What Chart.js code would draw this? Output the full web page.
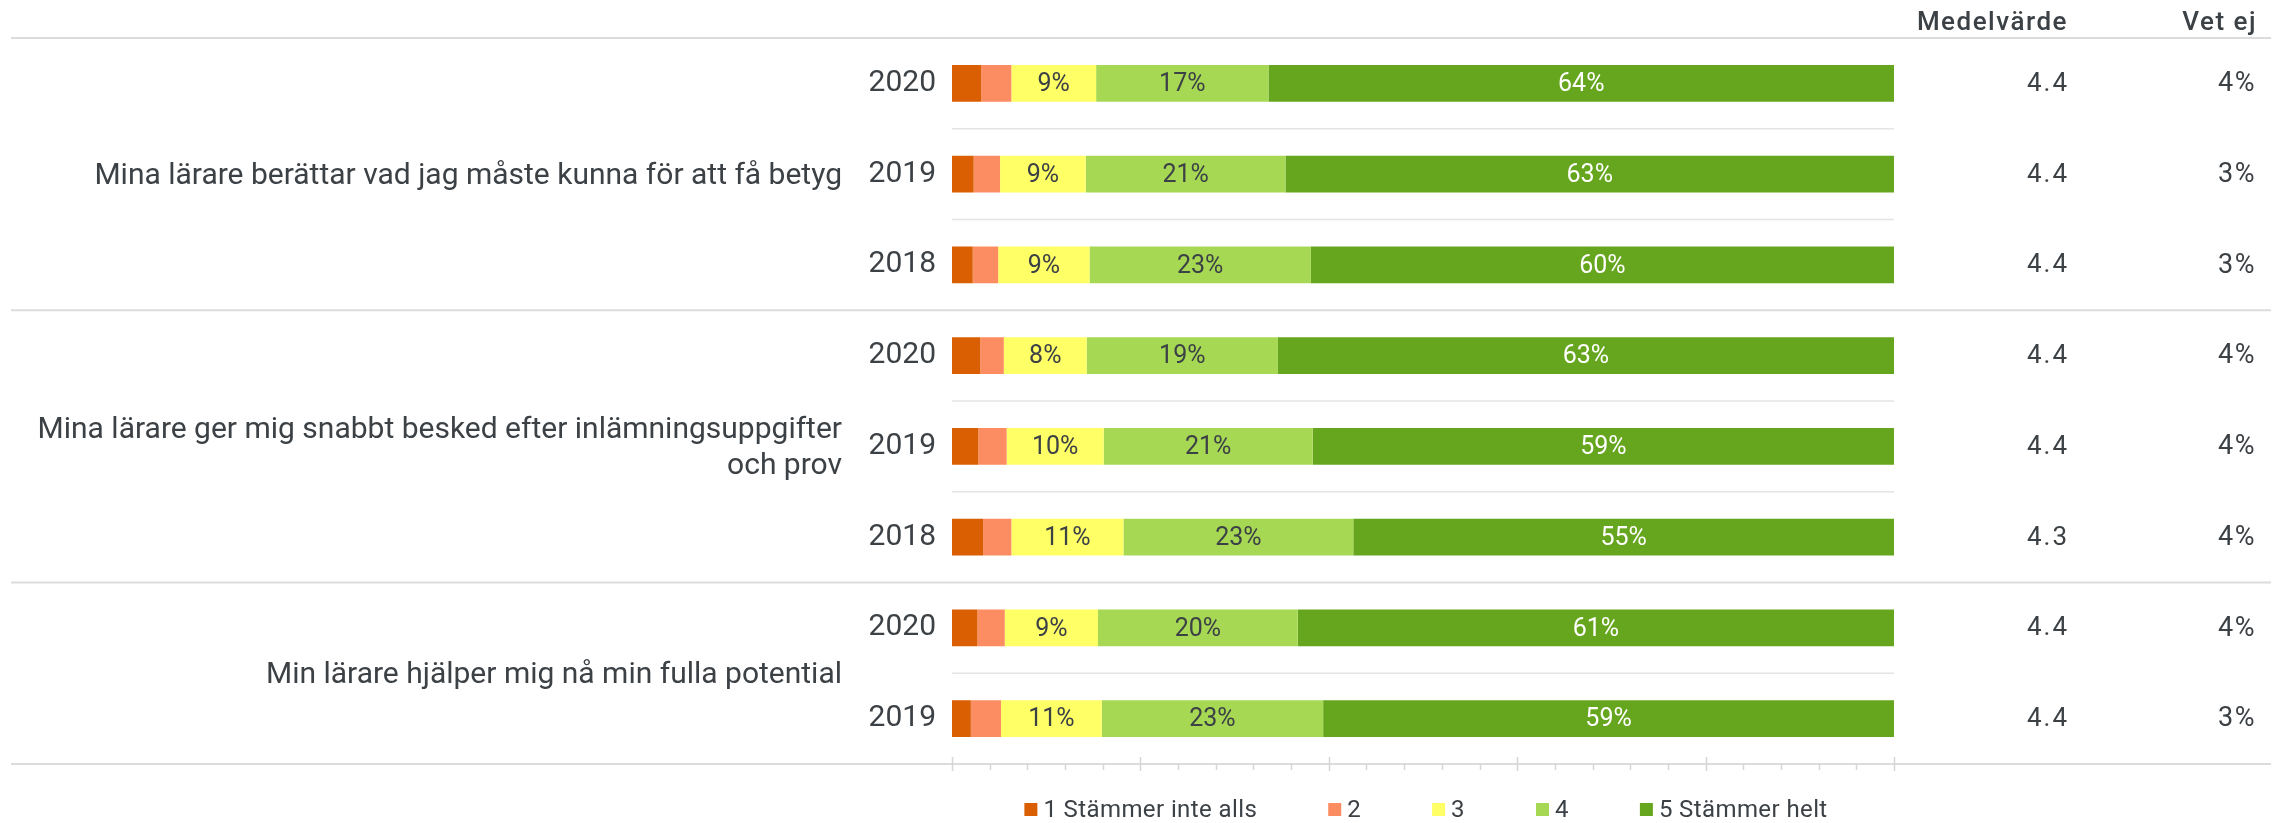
<!DOCTYPE html>
<html>
<head>
<meta charset="utf-8">
<script src="https://cdn.jsdelivr.net/npm/chart.js@4/dist/chart.umd.min.js"></script>
<style>
  html, body { margin: 0; padding: 0; background: #ffffff; }
  #wrap { width: 2284px; height: 823px; }
  canvas { display: block; }
</style>
</head>
<body>
<div id="wrap"><canvas id="c" width="2284" height="823"></canvas></div>
<script>
// ---------- data ----------
const years = ['2020', '2019', '2018', '2020', '2019', '2018', '2020', '2019'];
const groupLabels = [
  ['Mina lärare berättar vad jag måste kunna för att få betyg'],
  ['Mina lärare ger mig snabbt besked efter inlämningsuppgifter', 'och prov'],
  ['Min lärare hjälper mig nå min fulla potential']
];
const groupRows = [[0, 1, 2], [3, 4, 5], [6, 7]];
const seriesNames = ['1 Stämmer inte alls', '2', '3', '4', '5 Stämmer helt'];
// bar shares (% of those who answered)
const s1 = [3.1, 2.3, 2.2, 3.0, 2.8, 3.3, 2.7, 2.0];
const s2 = [3.2, 2.8, 2.7, 2.5, 3.0, 3.0, 2.9, 3.2];
const s3 = [9.0, 9.1, 9.7, 8.8, 10.3, 11.9, 9.9, 10.7];
const s4 = [18.3, 21.2, 23.5, 20.3, 22.2, 24.4, 21.2, 23.5];
const s5 = [66.4, 64.6, 61.9, 65.4, 61.7, 57.4, 63.3, 60.6];
// printed percentages
const pct3 = [9, 9, 9, 8, 10, 11, 9, 11];
const pct4 = [17, 21, 23, 19, 21, 23, 20, 23];
const pct5 = [64, 63, 60, 63, 59, 55, 61, 59];
const medelvarde = [4.4, 4.4, 4.4, 4.4, 4.4, 4.3, 4.4, 4.4];
const vetEj = [4, 3, 3, 4, 4, 4, 4, 3];
const colHeaders = ['Medelvärde', 'Vet ej'];
const xTicks = [0, 20, 40, 60, 80, 100];

// ---------- style ----------
const FONT = 'Roboto, "Noto Sans", "DejaVu Sans", sans-serif';
const TXT = '#3c4146';
const colors = ['#D95F02', '#FC8D62', '#FFFF66', '#A6D854', '#66A61E'];
const seriesVals = [s1, s2, s3, s4, s5];
const seriesPct = [null, null, pct3, pct4, pct5];
const labelColors = [null, null, '#3c4146', '#3c4146', '#ffffff'];

function hline(ctx, x1, x2, y) {
  ctx.beginPath(); ctx.moveTo(x1, y); ctx.lineTo(x2, y); ctx.stroke();
}
function setSpacing(ctx, v) { try { ctx.letterSpacing = v + 'px'; } catch (e) {} }

const decor = {
  id: 'decor',
  beforeDatasetsDraw(chart) {
    const { ctx, chartArea: ca, scales: { x, y } } = chart;
    ctx.save();
    // thin lines between years inside a group
    ctx.strokeStyle = '#e4e4e4';
    ctx.lineWidth = 1.5;
    groupRows.forEach(rows => {
      for (let k = 1; k < rows.length; k++) {
        const yy = (y.getPixelForValue(rows[k - 1]) + y.getPixelForValue(rows[k])) / 2;
        hline(ctx, ca.left, ca.right, yy);
      }
    });
    // separators between groups, full width
    ctx.strokeStyle = '#dcdcdc';
    ctx.lineWidth = 2;
    const seps = [ca.top];
    for (let g = 1; g < groupRows.length; g++) {
      const a = groupRows[g - 1][groupRows[g - 1].length - 1];
      const b = groupRows[g][0];
      seps.push((y.getPixelForValue(a) + y.getPixelForValue(b)) / 2);
    }
    seps.push(ca.bottom);
    seps.forEach(yy => hline(ctx, 11, 2271, yy));
    // axis tick marks
    ctx.lineWidth = 1.5;
    ctx.strokeStyle = '#d6d6d6';
    for (let v = 0; v <= 100; v += 4) {
      const px = Math.round(x.getPixelForValue(v)) + 0.5;
      const major = xTicks.includes(v);
      ctx.beginPath();
      ctx.moveTo(px, major ? ca.bottom - 7 : ca.bottom);
      ctx.lineTo(px, ca.bottom + (major ? 7 : 6));
      ctx.stroke();
    }
    ctx.restore();
  },
  afterDatasetsDraw(chart) {
    const { ctx } = chart;
    ctx.save();
    ctx.font = '25px ' + FONT;
    ctx.textAlign = 'center';
    ctx.textBaseline = 'middle';
    chart.data.datasets.forEach((ds, di) => {
      if (!seriesPct[di]) return;
      const meta = chart.getDatasetMeta(di);
      ctx.fillStyle = labelColors[di];
      meta.data.forEach((bar, i) => {
        const cx = (bar.x + bar.base) / 2;
        ctx.fillText(seriesPct[di][i] + '%', cx, bar.y + 1.5);
      });
    });
    ctx.restore();
  },
  afterDraw(chart) {
    const { ctx, chartArea: ca, scales: { y } } = chart;
    ctx.save();
    ctx.fillStyle = TXT;
    // group labels
    ctx.font = '30px ' + FONT;
    ctx.textAlign = 'right';
    ctx.textBaseline = 'middle';
    groupLabels.forEach((lines, g) => {
      const rows = groupRows[g];
      const cy = (y.getPixelForValue(rows[0]) + y.getPixelForValue(rows[rows.length - 1])) / 2;
      const lh = 36;
      lines.forEach((t, k) => {
        ctx.fillText(t, 842, cy + (k - (lines.length - 1) / 2) * lh + 2);
      });
    });
    // right columns
    years.forEach((_, i) => {
      const yy = y.getPixelForValue(i) + 1;
      ctx.font = '26px ' + FONT;
      setSpacing(ctx, 2);
      ctx.fillText(medelvarde[i].toFixed(1), 2069, yy);
      ctx.font = '27px ' + FONT;
      setSpacing(ctx, 1.5);
      ctx.fillText(vetEj[i] + '%', 2256, yy);
    });
    // headers
    ctx.font = '500 26px ' + FONT;
    setSpacing(ctx, 1.5);
    ctx.fillText(colHeaders[0], 2068, 23);
    ctx.fillText(colHeaders[1], 2257, 23);
    // legend
    setSpacing(ctx, 0.4);
    ctx.font = '24px ' + FONT;
    ctx.textAlign = 'left';
    const box = 13, gap = 6, pad = 71;
    const widths = seriesNames.map(n => box + gap + ctx.measureText(n).width);
    const total = widths.reduce((a, b) => a + b, 0) + pad * (widths.length - 1);
    let lx = (ca.left + ca.right) / 2 + 3 - total / 2;
    const ly = 810;
    seriesNames.forEach((n, i) => {
      ctx.fillStyle = colors[i];
      ctx.fillRect(lx, ly - 7, box, box);
      ctx.fillStyle = TXT;
      ctx.fillText(n, lx + box + gap, ly + 1);
      lx += widths[i] + pad;
    });
    ctx.restore();
  }
};

new Chart(document.getElementById('c'), {
  type: 'bar',
  data: {
    labels: years,
    datasets: seriesNames.map((n, i) => ({
      label: n,
      data: seriesVals[i],
      backgroundColor: colors[i],
      borderWidth: 0,
      barPercentage: 0.405,
      categoryPercentage: 1.0
    }))
  },
  options: {
    indexAxis: 'y',
    responsive: false,
    animation: false,
    devicePixelRatio: 1,
    layout: { padding: { left: 0, right: 390, top: 38, bottom: 59 } },
    plugins: { legend: { display: false }, tooltip: { enabled: false } },
    scales: {
      x: { stacked: true, min: 0, max: 100, display: false },
      y: {
        stacked: true,
        grid: { display: false, drawTicks: false },
        border: { display: false },
        ticks: { font: { family: FONT, size: 30 }, color: TXT, padding: 16 },
        afterFit(s) { s.width = 952; }
      }
    }
  },
  plugins: [decor]
});
</script>
</body>
</html>
